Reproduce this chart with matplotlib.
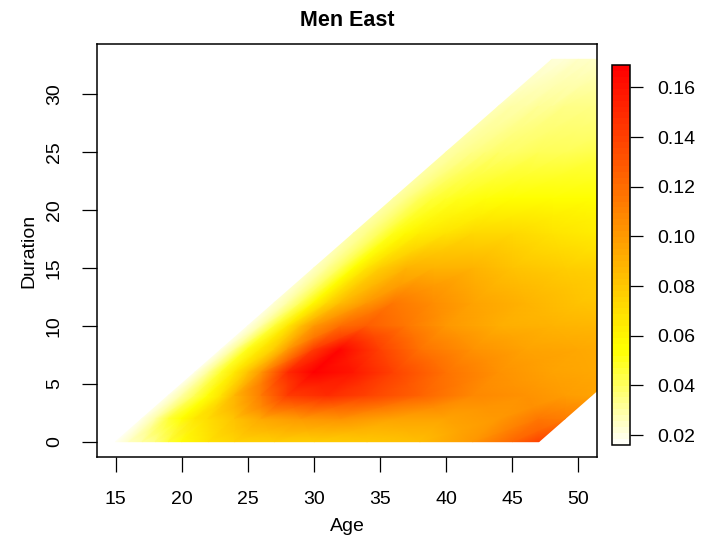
import colorsys
import matplotlib
matplotlib.use('Agg')
import matplotlib.pyplot as plt
import numpy as np
from matplotlib.colors import ListedColormap

plt.rcParams['font.family'] = ['Liberation Sans', 'DejaVu Sans']

# entry age (age - duration) and duration nodes of the rate surface
entry_ages = [15, 16, 17, 18, 19, 20, 22, 24, 27, 30, 34, 38, 42, 45, 47]
durations = [0, 2, 4, 6, 8, 10, 12, 15, 18, 21, 25, 29, 33]

# rates, one row per duration, one column per entry age
rates = [
    [.018, .024, .028, .035, .045, .054, .068, .074, .076, .077, .079, .085, .100, .122, .140],  # d 0
    [.019, .030, .045, .055, .064, .070, .082, .093, .100, .103, .097, .095, .102, .115, .112],  # d 2
    [.019, .028, .040, .052, .068, .086, .112, .142, .148, .140, .125, .108, .103, .098, .095],  # d 4
    [.019, .032, .048, .065, .082, .100, .148, .167, .158, .138, .118, .103, .097, .094, .093],  # d 6
    [.019, .031, .050, .065, .078, .098, .142, .165, .140, .118, .103, .096, .093, .092, .092],  # d 8
    [.020, .030, .045, .065, .085, .100, .120, .128, .115, .100, .092, .088, .087, .087, .087],  # d 10
    [.021, .030, .042, .058, .072, .085, .100, .115, .105, .095, .088, .082, .080, .080, .080],  # d 12
    [.025, .032, .042, .055, .068, .078, .088, .090, .088, .082, .077, .075, .073, .072, .072],  # d 15
    [.028, .034, .042, .050, .058, .062, .068, .071, .071, .067, .062, .060, .058, .058, .058],  # d 18
    [.030, .035, .040, .045, .048, .051, .054, .056, .056, .056, .054, .052, .052, .052, .052],  # d 21
    [.029, .032, .034, .036, .038, .039, .041, .042, .043, .043, .043, .043, .043, .043, .043],  # d 25
    [.026, .028, .029, .031, .032, .033, .034, .034, .034, .034, .034, .034, .034, .034, .034],  # d 29
    [.022, .023, .024, .025, .025, .025, .025, .025, .025, .025, .025, .025, .025, .025, .025],  # d 33
]

z_min, z_max = 0.016, 0.169
bar_ticks = [0.02, 0.04, 0.06, 0.08, 0.10, 0.12, 0.14, 0.16]
age_ticks = [15, 20, 25, 30, 35, 40, 45, 50]
dur_ticks = [0, 5, 10, 15, 20, 25, 30]


def heat_colors(n):
    # same construction as R's heat.colors()
    j = n // 4
    i = n - j
    cols = [colorsys.hsv_to_rgb(h, 1, 1) for h in np.linspace(0, 1 / 6, i)]
    cols += [colorsys.hsv_to_rgb(1 / 6, s, 1) for s in np.linspace(1 - 1 / (2 * j), 1 / (2 * j), j)]
    return cols


cmap = ListedColormap(heat_colors(64)[::-1])

E, D = np.meshgrid(entry_ages, durations)
A = E + D  # calendar age = entry age + duration
Z = np.array(rates)

fig = plt.figure(figsize=(7.11, 5.42), dpi=100)
ax = fig.add_axes([97 / 711, 1 - 457 / 542, 500 / 711, 413 / 542])
cax = fig.add_axes([612 / 711, 1 - 445 / 542, 18 / 711, 380 / 542])

mesh = ax.pcolormesh(A, D, Z, shading='gouraud', cmap=cmap, vmin=z_min, vmax=z_max)
ax.set_xlim(13.6, 51.4)
ax.set_ylim(-1.32, 34.32)
ax.set_xticks(age_ticks)
ax.set_yticks(dur_ticks)
ax.tick_params(direction='out', length=10.5, width=0.9, labelsize=14, pad=14)
for lab in ax.get_yticklabels():
    lab.set_rotation(90)
    lab.set_va('center')
for sp in ax.spines.values():
    sp.set_linewidth(1.1)
ax.set_xlabel('Age', fontsize=14, labelpad=7)
ax.set_ylabel('Duration', fontsize=14, labelpad=6)
ax.set_title('Men East', fontsize=15.5, fontweight='bold', pad=13)

cb = fig.colorbar(mesh, cax=cax, ticks=bar_ticks)
cb.ax.set_yticklabels([f'{t:.2f}' for t in bar_ticks])
cb.ax.tick_params(direction='out', length=9.5, width=0.9, labelsize=14, pad=10)
cb.outline.set_linewidth(1.1)

fig.savefig('out.png', dpi=100)
